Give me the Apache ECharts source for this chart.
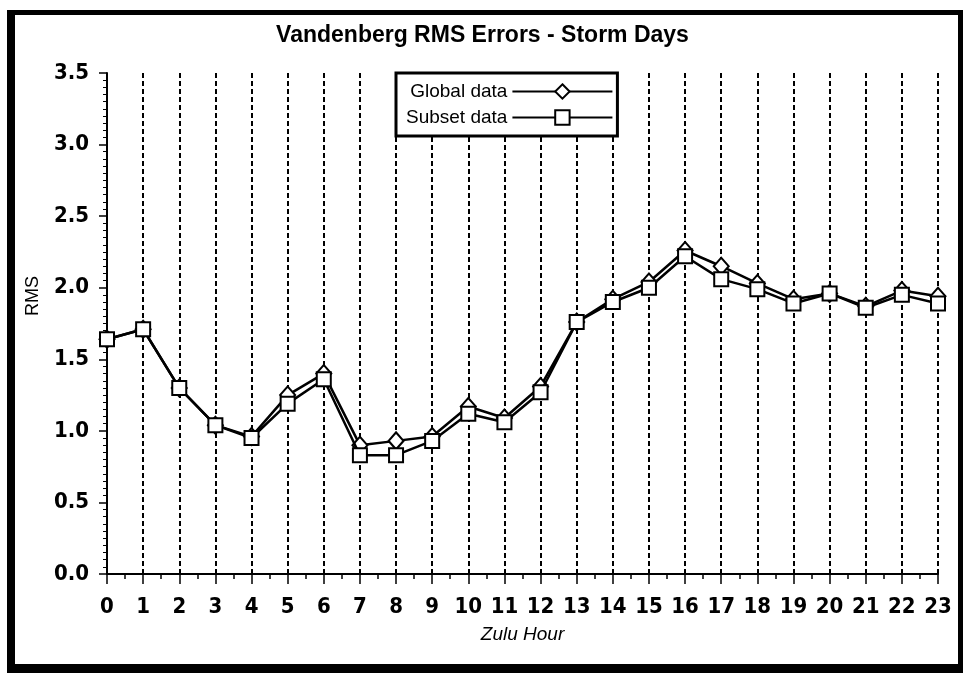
<!DOCTYPE html>
<html>
<head>
<meta charset="utf-8">
<title>Vandenberg RMS Errors - Storm Days</title>
<script src="https://cdn.jsdelivr.net/npm/echarts@6/dist/echarts.min.js"></script>
<style>
  html, body { margin: 0; padding: 0; background: #fff; }
  #main { width: 965px; height: 682px; }
</style>
</head>
<body>
<div id="main"></div>
<script>
// zulu hours on the x axis
const hours = [0, 1, 2, 3, 4, 5, 6, 7, 8, 9, 10, 11, 12, 13, 14, 15, 16, 17, 18, 19, 20, 21, 22, 23]
const hourLabels = hours.map(h => String(h))

// RMS errors
const globalData = [1.64, 1.71, 1.30, 1.04, 0.96, 1.25, 1.40, 0.90, 0.93, 0.96, 1.17, 1.09, 1.31, 1.76, 1.92, 2.04, 2.26, 2.15, 2.03, 1.92, 1.96, 1.87, 1.98, 1.94]
const subsetData = [1.64, 1.71, 1.30, 1.04, 0.95, 1.19, 1.36, 0.83, 0.83, 0.93, 1.12, 1.06, 1.27, 1.76, 1.90, 2.00, 2.22, 2.06, 1.99, 1.89, 1.96, 1.86, 1.95, 1.89]

const rmsTicks = [0, 0.5, 1.0, 1.5, 2.0, 2.5, 3.0, 3.5]

const tickFont = '"DejaVu Sans Condensed", "DejaVu Sans", sans-serif'
const textFont = '"Liberation Sans", Arial, Helvetica, sans-serif'

const chart = echarts.init(document.getElementById('main'))

const option = {
  backgroundColor: '#fff',
  animation: false,
  title: {
    text: 'Vandenberg RMS Errors - Storm Days',
    left: 'center',
    top: 19,
    textStyle: {
      fontFamily: textFont,
      fontSize: 23,
      fontWeight: 'bold',
      color: '#000'
    }
  },
  legend: {
    orient: 'vertical',
    left: 396,
    top: 73,
    align: 'right',
    itemWidth: 100,
    itemHeight: 18,
    itemGap: 7,
    padding: [9, 4, 9, 10],
    backgroundColor: '#fff',
    borderColor: '#000',
    borderWidth: 3,
    textStyle: {
      fontFamily: textFont,
      fontSize: 19,
      color: '#000'
    },
    data: ['Global data', 'Subset data']
  },
  grid: {
    left: 107,
    right: 27,
    top: 73,
    bottom: 108
  },
  xAxis: {
    type: 'value',
    min: hours[0],
    max: hours[hours.length - 1],
    interval: 1,
    offset: 8,
    name: 'Zulu Hour',
    nameLocation: 'middle',
    nameGap: 43,
    nameTextStyle: {
      fontFamily: textFont,
      fontSize: 19,
      fontStyle: 'italic',
      color: '#000'
    },
    axisLine: { lineStyle: { color: '#000', width: 2 } },
    axisTick: { length: 10, lineStyle: { color: '#000', width: 1.5 } },
    minorTick: { show: true, splitNumber: 2, length: 5, lineStyle: { color: '#000', width: 1.5 } },
    axisLabel: {
      margin: 14,
      fontFamily: tickFont,
      fontSize: 22,
      fontWeight: 'bold condensed',
      color: '#000',
      formatter: v => hourLabels[hours.indexOf(v)]
    },
    splitLine: {
      show: true,
      lineStyle: { color: '#000', width: 2, type: [5, 3] }
    }
  },
  yAxis: {
    type: 'value',
    min: rmsTicks[0],
    max: rmsTicks[rmsTicks.length - 1],
    interval: 0.5,
    offset: 6,
    axisLine: { show: true, lineStyle: { color: '#000', width: 2 } },
    axisTick: { show: true, length: 8, lineStyle: { color: '#000', width: 1.5 } },
    minorTick: { show: true, splitNumber: 10, length: 4, lineStyle: { color: '#000', width: 1 } },
    axisLabel: {
      margin: 12,
      fontFamily: tickFont,
      fontSize: 22,
      fontWeight: 'bold condensed',
      color: '#000',
      formatter: v => v.toFixed(1)
    },
    splitLine: { show: false }
  },
  graphic: [
    {
      type: 'text',
      x: 33,
      y: 296,
      rotation: Math.PI / 2,
      style: {
        text: 'RMS',
        align: 'center',
        verticalAlign: 'middle',
        font: '18px ' + textFont,
        fill: '#000'
      }
    },
    // heavy frame round the whole figure
    { type: 'rect', shape: { x: 7, y: 10, width: 8, height: 663 }, style: { fill: '#000' } },
    { type: 'rect', shape: { x: 7, y: 10, width: 956, height: 5 }, style: { fill: '#000' } },
    { type: 'rect', shape: { x: 7, y: 664, width: 956, height: 9 }, style: { fill: '#000' } },
    { type: 'rect', shape: { x: 958, y: 10, width: 5, height: 663 }, style: { fill: '#000' } }
  ],
  series: [
    {
      name: 'Global data',
      type: 'line',
      data: hours.map((h, i) => [h, globalData[i]]),
      symbol: 'diamond',
      symbolSize: [15, 17],
      showAllSymbol: true,
      lineStyle: { color: '#000', width: 2.5 },
      itemStyle: { color: '#fff', borderColor: '#000', borderWidth: 2 },
      z: 3
    },
    {
      name: 'Subset data',
      type: 'line',
      data: hours.map((h, i) => [h, subsetData[i]]),
      symbol: 'rect',
      symbolSize: 14,
      showAllSymbol: true,
      lineStyle: { color: '#000', width: 2.5 },
      itemStyle: { color: '#fff', borderColor: '#000', borderWidth: 2 },
      z: 4,
      markLine: {
        silent: true,
        symbol: 'none',
        label: { show: false },
        lineStyle: { color: '#000', type: 'solid', width: 2 },
        data: [{ yAxis: 0 }]
      }
    }
  ]
}

chart.setOption(option)
</script>
</body>
</html>
